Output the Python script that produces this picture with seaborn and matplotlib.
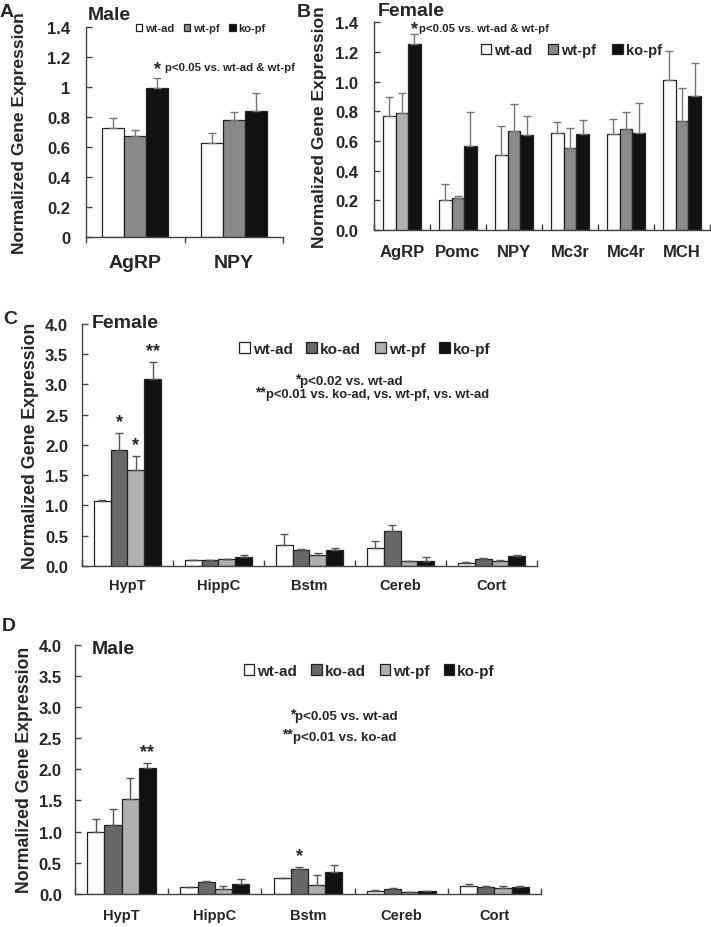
import matplotlib
matplotlib.use("Agg")
import matplotlib.pyplot as plt
import seaborn as sns
import pandas as pd
import numpy as np

# ---------------- data ----------------
genes_A = ["AgRP", "NPY"]
A_wt_ad = [0.725, 0.630]
A_wt_ad_err = [0.071, 0.066]
A_wt_pf = [0.672, 0.783]
A_wt_pf_err = [0.044, 0.048]
A_ko_pf = [0.991, 0.843]
A_ko_pf_err = [0.071, 0.119]

genes_B = ["AgRP", "Pomc", "NPY", "Mc3r", "Mc4r", "MCH"]
B_wt_ad = [0.771, 0.202, 0.506, 0.656, 0.649, 1.013]
B_wt_ad_err = [0.128, 0.106, 0.195, 0.072, 0.099, 0.196]
B_wt_pf = [0.789, 0.216, 0.670, 0.553, 0.683, 0.737]
B_wt_pf_err = [0.137, 0.013, 0.182, 0.132, 0.115, 0.223]
B_ko_pf = [1.254, 0.569, 0.643, 0.647, 0.654, 0.906]
B_ko_pf_err = [0.067, 0.227, 0.128, 0.097, 0.204, 0.218]

regions = ["HypT", "HippC", "Bstm", "Cereb", "Cort"]
C_wt_ad = [1.065, 0.088, 0.342, 0.287, 0.050]
C_wt_ad_err = [0.022, 0.0, 0.182, 0.127, 0.010]
C_ko_ad = [1.920, 0.088, 0.254, 0.579, 0.116]
C_ko_ad_err = [0.280, 0.0, 0.022, 0.094, 0.011]
C_wt_pf = [1.589, 0.105, 0.182, 0.072, 0.072]
C_wt_pf_err = [0.221, 0.005, 0.022, 0.005, 0.022]
C_ko_pf = [3.090, 0.149, 0.254, 0.083, 0.155]
C_ko_pf_err = [0.280, 0.021, 0.033, 0.055, 0.016]

D_wt_ad = [1.000, 0.112, 0.251, 0.043, 0.123]
D_wt_ad_err = [0.198, 0.0, 0.0, 0.021, 0.032]
D_ko_ad = [1.112, 0.193, 0.406, 0.080, 0.112]
D_ko_ad_err = [0.246, 0.016, 0.022, 0.010, 0.011]
D_wt_pf = [1.524, 0.086, 0.150, 0.027, 0.100]
D_wt_pf_err = [0.337, 0.042, 0.160, 0.005, 0.034]
D_ko_pf = [2.016, 0.160, 0.353, 0.043, 0.107]
D_ko_pf_err = [0.080, 0.080, 0.107, 0.005, 0.016]

groups3 = ["wt-ad", "wt-pf", "ko-pf"]
groups4 = ["wt-ad", "ko-ad", "wt-pf", "ko-pf"]

sns.set_style("ticks")
plt.rcParams["font.family"] = ["Liberation Sans", "DejaVu Sans"]
plt.rcParams["font.weight"] = "bold"
plt.rcParams["axes.labelweight"] = "bold"

pal3 = {"wt-ad": "#ffffff", "wt-pf": "#8a8a8a", "ko-pf": "#111111"}
pal4 = {"wt-ad": "#ffffff", "ko-ad": "#686868", "wt-pf": "#b0b0b0", "ko-pf": "#111111"}

fig = plt.figure(figsize=(7.11, 9.28), dpi=100)
BARS = {}


def long_df(cats, groups, vals, errs):
    rows = []
    for g, v, e in zip(groups, vals, errs):
        for c, vv, ee in zip(cats, v, e):
            rows.append({"cat": c, "group": g, "value": vv, "err": ee})
    return pd.DataFrame(rows)


def panel(rect, cats, groups, vals, errs, pal, bar_w, ylim, yticks, ytlabels,
          xtick_dir, lab_size, lab_pad, ytick_size, ytick_pad, ylab_size,
          ylab_x, ecolor):
    ax = fig.add_axes(rect)
    df = long_df(cats, groups, vals, errs)
    sns.barplot(data=df, x="cat", y="value", hue="group", hue_order=groups,
                order=cats, palette=pal, width=bar_w, gap=0, errorbar=None,
                edgecolor="#222222", linewidth=0.9, ax=ax, legend=True)
    bars = list(ax.containers)
    BARS[id(ax)] = bars
    for cont, g in zip(bars, groups):
        sub = df[df.group == g]
        xs = [p.get_x() + p.get_width() / 2 for p in cont.patches]
        ys = sub["value"].values
        es = sub["err"].values
        ax.errorbar(xs, ys, yerr=[np.zeros_like(es), es], fmt="none",
                    ecolor=ecolor, elinewidth=1.0, capsize=3, capthick=1.0,
                    zorder=1)
    n = len(cats)
    ax.set_xlim(-0.5, n - 0.5)
    ax.set_ylim(*ylim)
    ax.set_yticks(yticks)
    ax.set_yticklabels(ytlabels, fontsize=ytick_size, fontweight="bold")
    ax.set_xticks(range(n))
    ax.set_xticklabels(cats, fontsize=lab_size, fontweight="bold")
    ax.tick_params(axis="x", which="major", length=0, pad=lab_pad)
    ax.set_xticks(np.arange(-0.5, n, 1.0), minor=True)
    ax.tick_params(axis="x", which="minor", length=4, direction=xtick_dir,
                   color="#444444", width=1)
    ax.tick_params(axis="y", direction="in", length=4, color="#444444",
                   width=1, pad=ytick_pad)
    for s in ["top", "right"]:
        ax.spines[s].set_visible(False)
    for s in ["left", "bottom"]:
        ax.spines[s].set_color("#444444")
        ax.spines[s].set_linewidth(1.0)
    ax.set_xlabel("")
    ax.set_ylabel("Normalized Gene Expression", fontsize=ylab_size,
                  fontweight="bold")
    ax.yaxis.set_label_coords(ylab_x, 0.5)
    ax.get_legend().remove()
    return ax


def bar_top(ax, gi, ci, vals, errs):
    p = BARS[id(ax)][gi].patches[ci]
    return p.get_x() + p.get_width() / 2, vals[ci] + errs[ci]


def add_legend(ax, groups, idx, x, y, fs, hl, cs):
    ax.legend([c.patches[idx] for c in BARS[id(ax)]], groups,
              loc="center left", bbox_to_anchor=(x, y), ncol=len(groups),
              frameon=False, fontsize=fs, handlelength=hl, handleheight=hl,
              handletextpad=0.2, columnspacing=cs, borderaxespad=0,
              borderpad=0)


# ---------------- Panel A ----------------
axA = panel([0.121, 0.7435, 0.277, 0.2263], genes_A, groups3,
            [A_wt_ad, A_wt_pf, A_ko_pf], [A_wt_ad_err, A_wt_pf_err, A_ko_pf_err],
            pal3, 0.67, (0, 1.4), np.arange(0, 1.41, 0.2),
            ["0", "0.2", "0.4", "0.6", "0.8", "1", "1.2", "1.4"],
            "out", 14, 12, 12, 11.5, 12.6, -0.30, "#777777")
add_legend(axA, groups3, 0, 0.252, 0.995, 8, 0.6, 0.9)
axA.text(0.345, 0.80, "*", transform=axA.transAxes, fontsize=13,
         fontweight="bold", ha="left", va="center")
axA.text(0.40, 0.812, "p<0.05 vs. wt-ad & wt-pf", transform=axA.transAxes,
         fontsize=8.2, fontweight="bold", ha="left", va="center")
axA.set_title("Male", fontsize=14, fontweight="bold", loc="left", x=0.01,
              y=1.0)
fig.text(0.0, 0.987, "A", fontsize=14, fontweight="bold", va="center")

# ---------------- Panel B ----------------
axB = panel([0.526, 0.751, 0.4726, 0.224], genes_B, groups3,
            [B_wt_ad, B_wt_pf, B_ko_pf], [B_wt_ad_err, B_wt_pf_err, B_ko_pf_err],
            pal3, 0.67, (0, 1.4), np.arange(0, 1.41, 0.2),
            ["0.0", "0.2", "0.4", "0.6", "0.8", "1.0", "1.2", "1.4"],
            "in", 12, 10, 12, 11.5, 12.6, -0.14, "#777777")
# AgRP wt-pf bar is lighter in the original
BARS[id(axB)][1].patches[0].set_facecolor("#b0b0b0")
add_legend(axB, groups3, -1, 0.318, 0.865, 10.5, 0.7, 1.1)
axB.text(0.11, 0.97, "*", transform=axB.transAxes, fontsize=13,
         fontweight="bold", ha="left", va="center")
axB.text(0.133, 0.97, "p<0.05 vs. wt-ad & wt-pf", transform=axB.transAxes,
         fontsize=8.2, fontweight="bold", ha="left", va="center")
axB.set_title("Female", fontsize=14, fontweight="bold", loc="left", x=0.01,
              y=0.995)
fig.text(0.418, 0.986, "B", fontsize=14, fontweight="bold", va="center")

# ---------------- Panel C ----------------
axC = panel([0.1153, 0.3893, 0.64, 0.2604], regions, groups4,
            [C_wt_ad, C_ko_ad, C_wt_pf, C_ko_pf],
            [C_wt_ad_err, C_ko_ad_err, C_wt_pf_err, C_ko_pf_err],
            pal4, 0.74, (0, 4.0), np.arange(0, 4.01, 0.5),
            ["%.1f" % v for v in np.arange(0, 4.01, 0.5)],
            "in", 10.5, 9, 12, 10, 12.8, -0.094, "#555555")
add_legend(axC, groups4, 0, 0.345, 0.897, 11, 0.7, 0.9)
x, t = bar_top(axC, 1, 0, C_ko_ad, C_ko_ad_err)
axC.text(x, t + 0.05, "*", fontsize=13, fontweight="bold", ha="center", va="bottom")
x, t = bar_top(axC, 2, 0, C_wt_pf, C_wt_pf_err)
axC.text(x, t + 0.05, "*", fontsize=13, fontweight="bold", ha="center", va="bottom")
x, t = bar_top(axC, 3, 0, C_ko_pf, C_ko_pf_err)
axC.text(x, t + 0.05, "**", fontsize=13, fontweight="bold", ha="center", va="bottom")
axC.text(0.479, 0.776, "*", transform=axC.transAxes, fontsize=10,
         fontweight="bold", ha="right", va="center")
axC.text(0.479, 0.764, "p<0.02 vs. wt-ad", transform=axC.transAxes,
         fontsize=9.6, fontweight="bold", ha="left", va="center")
axC.text(0.404, 0.722, "**", transform=axC.transAxes, fontsize=10,
         fontweight="bold", ha="right", va="center")
axC.text(0.404, 0.71, "p<0.01 vs. ko-ad, vs. wt-pf, vs. wt-ad",
         transform=axC.transAxes, fontsize=9.4, fontweight="bold", ha="left",
         va="center")
axC.set_title("Female", fontsize=14, fontweight="bold", loc="left", x=0.022,
              y=0.955)
fig.text(0.005, 0.656, "C", fontsize=14, fontweight="bold", va="center")

# ---------------- Panel D ----------------
axD = panel([0.1055, 0.03556, 0.6554, 0.2687], regions, groups4,
            [D_wt_ad, D_ko_ad, D_wt_pf, D_ko_pf],
            [D_wt_ad_err, D_ko_ad_err, D_wt_pf_err, D_ko_pf_err],
            pal4, 0.74, (0, 4.0), np.arange(0, 4.01, 0.5),
            ["%.1f" % v for v in np.arange(0, 4.01, 0.5)],
            "in", 10.5, 10, 12, 9.5, 12.8, -0.09, "#555555")
add_legend(axD, groups4, 0, 0.362, 0.894, 11, 0.7, 0.9)
x, t = bar_top(axD, 3, 0, D_ko_pf, D_ko_pf_err)
axD.text(x, t + 0.05, "**", fontsize=13, fontweight="bold", ha="center", va="bottom")
x, t = bar_top(axD, 1, 2, D_ko_ad, D_ko_ad_err)
axD.text(x, t + 0.05, "*", fontsize=13, fontweight="bold", ha="center", va="bottom")
axD.text(0.472, 0.726, "*", transform=axD.transAxes, fontsize=10,
         fontweight="bold", ha="right", va="center")
axD.text(0.472, 0.714, "p<0.05 vs. wt-ad", transform=axD.transAxes,
         fontsize=9.6, fontweight="bold", ha="left", va="center")
axD.text(0.468, 0.642, "**", transform=axD.transAxes, fontsize=10,
         fontweight="bold", ha="right", va="center")
axD.text(0.468, 0.63, "p<0.01 vs. ko-ad", transform=axD.transAxes,
         fontsize=9.6, fontweight="bold", ha="left", va="center")
axD.set_title("Male", fontsize=14, fontweight="bold", loc="left", x=0.035,
              y=0.935)
fig.text(0.003, 0.325, "D", fontsize=14, fontweight="bold", va="center")

fig.savefig("out.png", dpi=100)
